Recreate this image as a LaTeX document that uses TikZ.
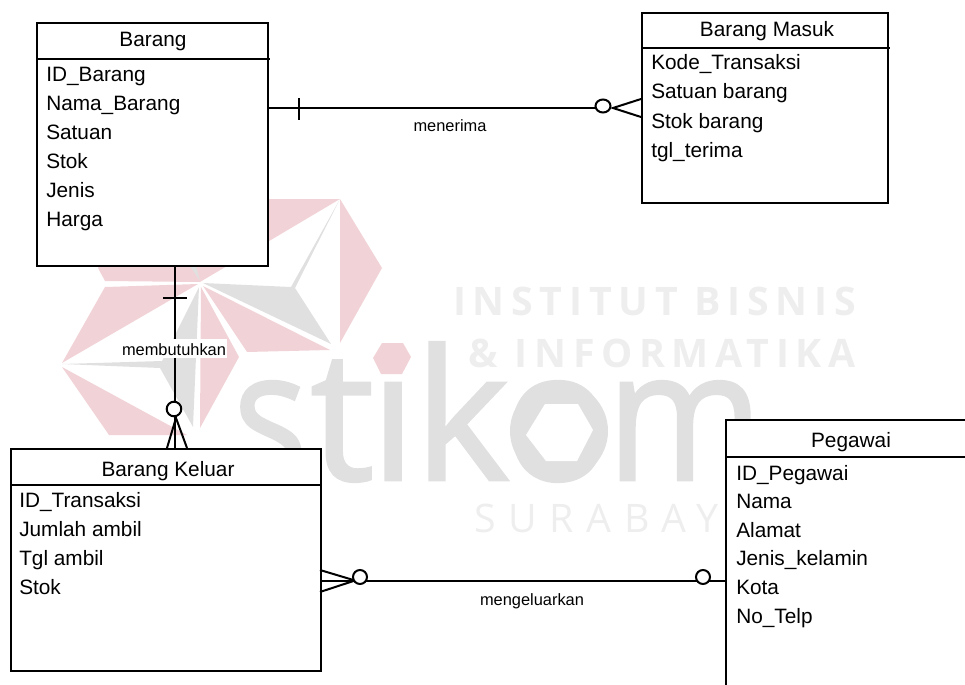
\documentclass[tikz,border=0pt]{standalone}
\usepackage{fontspec}
\setmainfont{Liberation Sans}
\newfontfamily\wmfont[LetterSpace=17]{Open Sans}
\newfontfamily\wmthin[LetterSpace=32]{Open Sans}
\newfontfamily\wmlogo[FakeBold=1.5]{Open Sans}
\definecolor{wmpink}{HTML}{F1D3D7}
\definecolor{wmgrey}{HTML}{E0E0E0}
\definecolor{wmlight}{HTML}{EEEEEE}
\tikzset{
  entity/.style={draw=black,line width=1.5pt,fill=white,anchor=north west,inner sep=0pt},
  titletext/.style={font=\fontsize{15.6}{18}\selectfont,inner sep=0pt,anchor=base},
  attr/.style={font=\fontsize{15.6}{18}\selectfont,inner sep=0pt,anchor=base west},
  rel/.style={font=\fontsize{12.3}{14}\selectfont,inner sep=0pt,anchor=base},
  conn/.style={draw=black,line width=1.5pt},
  crowfoot/.style={draw=black,line width=1.5pt,fill=white},
  wmletter/.style={font=\wmlogo\fontsize{136}{136}\selectfont,text=wmgrey,inner sep=0pt,anchor=base west},
  wmhead/.style={font=\wmfont\bfseries\fontsize{29.5}{32}\selectfont,text=wmlight,inner sep=0pt,anchor=base west},
  wmsub/.style={font=\wmthin\fontsize{29.5}{32}\selectfont,text=wmlight,inner sep=0pt,anchor=base west},
}
\begin{document}
\begin{tikzpicture}[x=0.75pt,y=-0.75pt]
\useasboundingbox (0,0) rectangle (965,685);
% ---- watermark logo
\fill[wmpink] (340,199) -- (200,282) -- (105,281) -- (98,268) -- (165,199) -- cycle;
\fill[wmpink] (340,199) -- (382,268) -- (340,343) -- cycle;
\fill[wmgrey] (340,199) -- (291,287) -- (203,283) -- (331,344) -- (295,288) -- cycle;
\fill[wmpink] (203,286) -- (330,350) -- (247,352) -- cycle;
\fill[wmpink] (201,287) -- (239,357) -- (200,428) -- cycle;
\fill[wmgrey] (199,287) -- (162,361) -- (62,364) -- (160,368) -- (193,427) -- cycle;
\fill[wmpink] (105,287) -- (198,284) -- (62,363) -- cycle;
\fill[wmpink] (62,367) -- (109,435) -- (187,435) -- cycle;
\fill[wmgrey] (190,266) -- (196,266) -- (200,281) -- cycle;
% ---- watermark word
\node[wmletter] (wS) at (233,480) {\scalebox{.86}[1]{s}};
\node[wmletter] (wT) at (310,480) {t};
\node[wmletter] (wI) at (370,480) {\i};
\node[wmletter] (wK) at (414,480) {k};
\node[wmletter] (wO) at (503,480) {o};
\fill[wmgrey] (559,431) circle [radius=49];
\node[wmletter] (wM) at (606,480) {\scalebox{.93}[1]{m}};
\fill[wmpink] (373,358) -- (382,343) -- (403,343) -- (411,357) -- (402,374) -- (381,374) -- cycle;
\fill[white] (526,435) -- (545,404) -- (578,404) -- (593,430) -- (577,461) -- (546,461) -- cycle;
\node[wmhead] (wH1) at (453,315) {INSTITUT BISNIS};
\node[wmhead] (wH2) at (468,367) {\& INFORMATIKA};
\node[wmsub] (wH3) at (474,532) {SURABAYA};
% ---- entities
\node[entity,minimum width=231pt*0.75,minimum height=243pt*0.75] (barang) at (36,22) {};
\draw[conn] (36,59) -- (270,59);
\node[titletext] (tBarang) at (153,47) {Barang};
\node[attr] (b1) at (46,82) {ID\_Barang};
\node[attr] (b2) at (46,111) {Nama\_Barang};
\node[attr] (b3) at (46,140) {Satuan};
\node[attr] (b4) at (46,168) {Stok};
\node[attr] (b5) at (46,197) {Jenis};
\node[attr] (b6) at (46,226) {Harga};

\node[entity,minimum width=246pt*0.75,minimum height=190pt*0.75] (masuk) at (641,12) {};
\draw[conn] (641,48) -- (890,48);
\node[titletext] (tMasuk) at (767,37) {Barang Masuk};
\node[attr] (m1) at (651,70) {Kode\_Transaksi};
\node[attr] (m2) at (651,99) {Satuan barang};
\node[attr] (m3) at (651,128) {Stok barang};
\node[attr] (m4) at (651,157) {tgl\_terima};

\node[entity,minimum width=310pt*0.75,minimum height=222pt*0.75] (keluar) at (10,448) {};
\draw[conn] (10,485) -- (322,485);
\node[titletext] (tKeluar) at (168,476) {Barang Keluar};
\node[attr] (k1) at (19,507) {ID\_Transaksi};
\node[attr] (k2) at (19,536) {Jumlah ambil};
\node[attr] (k3) at (19,565) {Tgl ambil};
\node[attr] (k4) at (19,594) {Stok};

\fill[white] (726,420) rectangle (965,685);
\draw[conn] (965,420) -- (726,420) -- (726,685);
\draw[conn] (726,457) -- (965,457);
\node[titletext] (tPegawai) at (851,447) {Pegawai};
\node[attr] (p1) at (736,480) {ID\_Pegawai};
\node[attr] (p2) at (736,508) {Nama};
\node[attr] (p3) at (736,537) {Alamat};
\node[attr] (p4) at (736,565) {Jenis\_kelamin};
\node[attr] (p5) at (736,594) {Kota};
\node[attr] (p6) at (736,623) {No\_Telp};

% ---- connector end points
\coordinate (cA) at (267,108);
\coordinate (cB) at (596,108);
\coordinate (cC) at (175,265);
\coordinate (cD) at (175,402);
\coordinate (cE) at (320,580.5);
\coordinate (cF) at (726,580.5);

% ---- menerima
\draw[conn] (cA) -- (cB);
\draw[conn] (299,98) -- (299,120);
\draw[crowfoot] (603,106) ellipse [x radius=7.5,y radius=6.5];
\draw[conn] (641,99) -- (613,108) -- (641,117);
\node[rel] (lMenerima) at (450,132) {menerima};

% ---- membutuhkan
\draw[conn] (cC) -- (cD);
\draw[conn] (163,298) -- (187,298);
\fill[white] (120,339) rectangle (227,358);
\node[rel] (lButuh) at (174,355) {membutuhkan};
\draw[crowfoot] (174,409) circle [radius=7.3];
\draw[conn] (175,417) -- (175,448);
\draw[conn] (167,448) -- (176,418) -- (187,448);

% ---- mengeluarkan
\draw[conn] (cE) -- (cF);
\draw[conn] (320,570) -- (355,580.5) -- (320,592);
\draw[crowfoot] (360,577) circle [radius=7];
\draw[crowfoot] (703,577) circle [radius=7];
\node[rel] (lKeluar) at (532,605) {mengeluarkan};
\end{tikzpicture}
\end{document}
